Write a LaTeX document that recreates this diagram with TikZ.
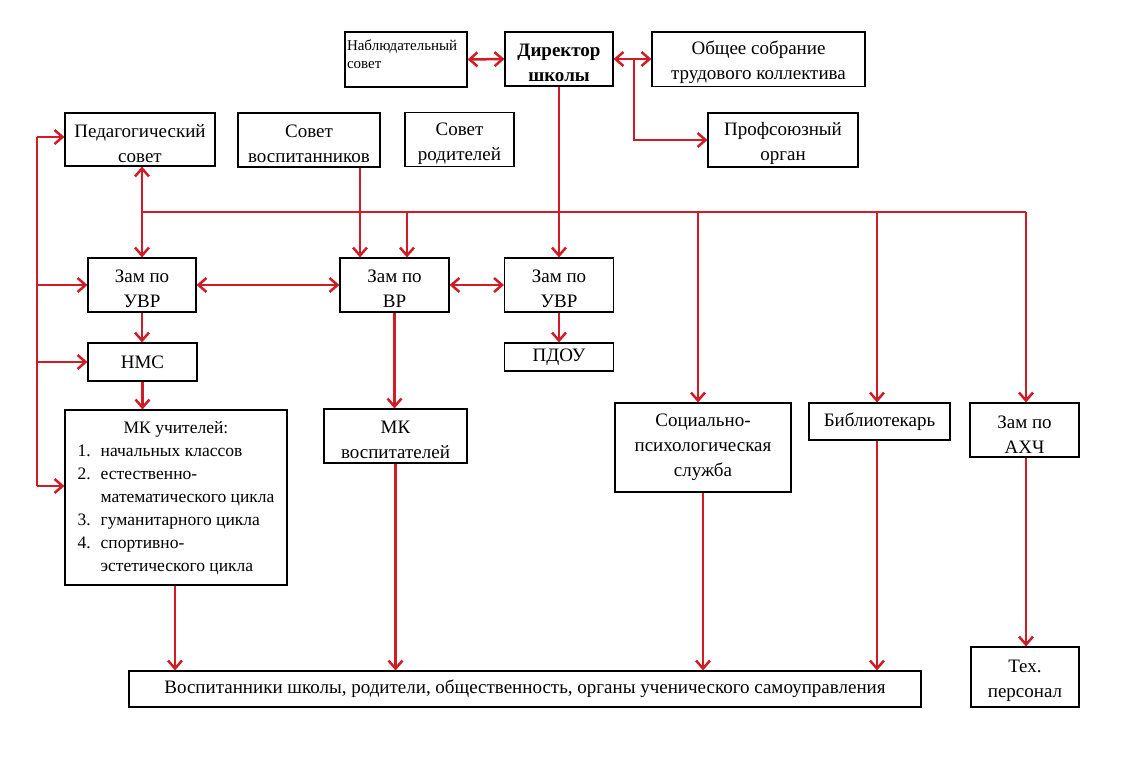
\documentclass[tikz,border=0pt]{standalone}
\usepackage{fontspec}
\setmainfont{Liberation Serif}
\usetikzlibrary{arrows.meta,calc}
\definecolor{lred}{RGB}{208,28,36}
\newcommand\tup{\rule{0pt}{21pt}}
\begin{document}
\begin{tikzpicture}[x=1pt,y=-1pt,
  box/.style={draw=black,line width=1.1pt,inner sep=2pt,align=center,
    font=\fontsize{19}{25}\selectfont},
  rl/.style={draw=lred,line width=2.5pt},
  arr/.style={rl,-{Straight Barb[length=8pt,width=14pt]}},
  arrb/.style={rl,{Straight Barb[length=8pt,width=14pt]}-{Straight Barb[length=8pt,width=14pt]}}]
\useasboundingbox[fill=white] (0,0) rectangle (1122,766);
% nodes
\node[box,minimum width=122,minimum height=55,text width=118,align=left,
  font=\fontsize{15}{18}\selectfont] (nab) at (406,59.5) {Наблюдательный\\совет\\[-8pt]\mbox{}};
\node[box,minimum width=108,minimum height=54,font=\fontsize{19}{25}\selectfont\bfseries] (dir) at (559,59) {\tup Директор\\школы};
\node[box,minimum width=213,minimum height=54] (obs) at (758.5,59) {\tup Общее собрание\\трудового коллектива};
\node[box,minimum width=150,minimum height=54] (prof) at (783,140) {\tup Профсоюзный\\орган};
\node[box,minimum width=150,minimum height=53] (ped) at (140,139.5) {\tup Педагогический\\совет};
\node[box,minimum width=142,minimum height=54] (sv) at (309,140) {\tup Совет\\воспитанников};
\node[box,minimum width=109,minimum height=53] (sr) at (459.5,139.5) {\tup Совет\\родителей};
\node[box,minimum width=108,minimum height=54] (zu1) at (142,285) {\tup Зам по\\УВР};
\node[box,minimum width=109,minimum height=54] (zvr) at (394.5,285) {\tup Зам по\\ВР};
\node[box,minimum width=109,minimum height=54] (zu2) at (559,285) {\tup Зам по\\УВР};
\node[box,minimum width=109,minimum height=38] (nms) at (142.5,362) {НМС};
\node[box,minimum width=109,minimum height=28,inner sep=0pt] (pdou) at (559,357) {ПДОУ};
\node[box,minimum width=222,minimum height=175,font=\fontsize{17.5}{23}\selectfont] (mku) at (176,497.5)
 {\begin{tabular}{@{}l@{\hspace{10pt}}l@{}}
  \multicolumn{2}{c}{МК учителей:}\\
  1. & начальных классов\\
  2. & естественно-\\
     & математического цикла\\
  3. & гуманитарного цикла\\
  4. & спортивно-\\
     & эстетического цикла
  \end{tabular}};
\node[box,minimum width=143,minimum height=54] (mkv) at (395.5,436) {\tup МК\\воспитателей};
\node[box,minimum width=176,minimum height=89] (soc) at (703,447.5) {Социально-\\психологическая\\служба};
\node[box,minimum width=141,minimum height=37] (bib) at (879.5,421.5) {Библиотекарь};
\node[box,minimum width=109,minimum height=54] (akh) at (1024.5,430) {\tup Зам по\\АХЧ};
\node[box,minimum width=792,minimum height=36] (vos) at (525,689) {Воспитанники школы, родители, общественность, органы ученического самоуправления};
\node[box,minimum width=108,minimum height=60] (tex) at (1025,677) {\tup Тех.\\персонал};
% coordinates
\coordinate (pj) at (634,59);
\coordinate (busL) at (142,212);
\coordinate (busR) at (1026,212);
\coordinate (svx) at (360,0);
\coordinate (vrx) at (407,0);
\coordinate (socx) at (698,0);
\coordinate (bibx) at (877,0);
\coordinate (lt) at (37,137);
\coordinate (lb) at (37,486);
\coordinate (mkux) at (175,0);
\coordinate (akx) at (1026,0);
% connectors top
\draw[arrb] (nab.east) -- (dir.west);
\draw[arrb] (dir.east) -- (obs.west);
\draw[arr] (pj) |- (prof.west);
\draw[arr] (dir.south) -- (dir.south |- zu2.north);
% bus
\draw[rl] (busL) -- (busR);
\draw[arrb] (zu1.north |- ped.south) -- (zu1.north);
\draw[arr] (busR) -- (akh.north -| akx);
\draw[arr] (busL -| socx) -- (soc.north -| socx);
\draw[arr] (busL -| bibx) -- (bib.north -| bibx);
\draw[arr] (busL -| vrx) -- (zvr.north -| vrx);
\draw[arr] (sv.south -| svx) -- (zvr.north -| svx);
% left bus
\draw[rl] (lt) -- (lb);
\draw[arr] (lt) -- (lt -| ped.west);
\draw[arr] (zu1.west -| lt) -- (zu1.west);
\draw[arr] (nms.west -| lt) -- (nms.west);
\draw[arr] (lb) -- (lb -| mku.west);
% middle
\draw[arrb] (zu1.east) -- (zvr.west);
\draw[arrb] (zvr.east) -- (zu2.west);
\draw[arr] (zu1.south) -- (zu1.south |- nms.north);
\draw[arr] (nms.south) -- (nms.south |- mku.north);
\draw[arr] (zu2.south) -- (pdou.north);
\draw[arr] (zvr.south) -- (zvr.south |- mkv.north);
% down to bottom
\draw[arr] (mku.south -| mkux) -- (vos.north -| mkux);
\draw[arr] (mkv.south) -- (mkv.south |- vos.north);
\draw[arr] (soc.south) -- (soc.south |- vos.north);
\draw[arr] (bib.south -| bibx) -- (vos.north -| bibx);
\draw[arr] (akh.south -| akx) -- (tex.north -| akx);
\end{tikzpicture}
\end{document}
